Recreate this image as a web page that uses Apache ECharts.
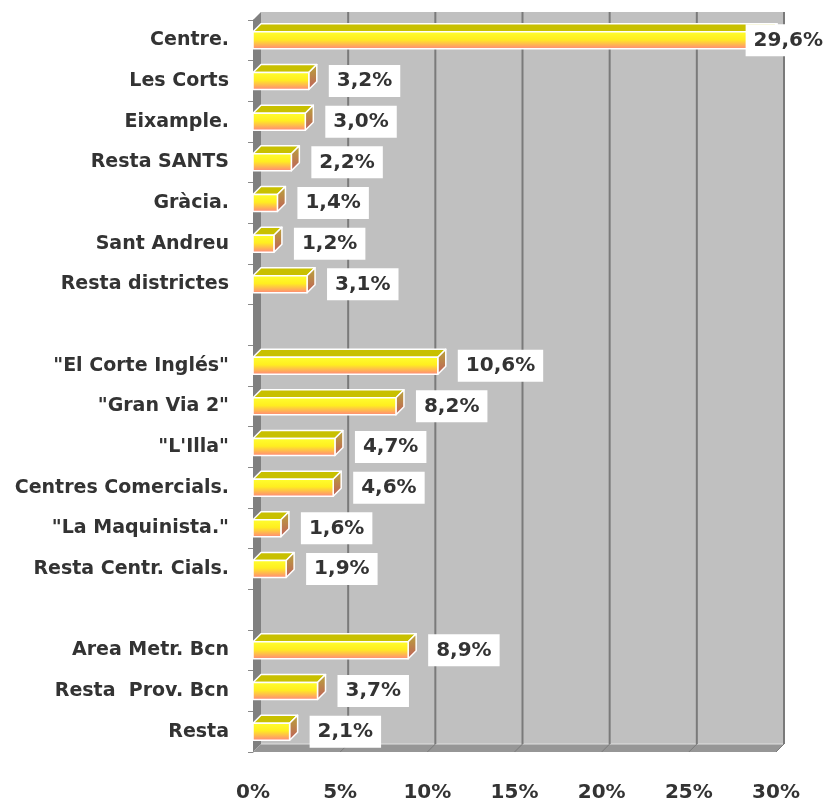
<!DOCTYPE html>
<html>
<head>
<meta charset="utf-8">
<script src="https://cdn.jsdelivr.net/npm/echarts@6/dist/echarts.min.js"></script>
<style>
html, body { margin: 0; background: #fff; }
#chart { width: 827px; height: 802px; }
</style>
</head>
<body>
<div id="chart"></div>
<script>
// categories top to bottom ('' = empty spacer rows)
const categories = ['Centre.', 'Les Corts', 'Eixample.', 'Resta SANTS', 'Gràcia.', 'Sant Andreu',
  'Resta districtes', '', '"El Corte Inglés"', '"Gran Via 2"', '"L\'Illa"', 'Centres Comercials.',
  '"La Maquinista."', 'Resta Centr. Cials.', '', 'Area Metr. Bcn', 'Resta  Prov. Bcn', 'Resta'];
const values = [29.6, 3.2, 3.0, 2.2, 1.4, 1.2, 3.1, null, 10.6, 8.2, 4.7, 4.6, 1.6, 1.9, null, 8.9, 3.7, 2.1];
const xTicks = [0, 5, 10, 15, 20, 25, 30];

const DEPTH = 8;     // 3d offset
const FACE_H = 17;   // front face height
const FONT = 'DejaVu Sans';

const chart = echarts.init(document.getElementById('chart'));

const fmt = v => v.toFixed(1).replace('.', ',') + '%';

function renderWalls(params, api) {
  const cs = params.coordSys;
  const d = DEPTH;
  const top = cs.y, bot = cs.y + cs.height;
  const x = api.coord([api.value(0), 0])[0];
  const children = [];
  if (params.dataIndex === 0) {
    children.push({ type: 'rect', shape: { x: cs.x + d, y: top - d, width: cs.width, height: cs.height },
      style: { fill: '#c0c0c0' } });
    children.push({ type: 'polygon', shape: { points: [[cs.x, top], [cs.x + d, top - d], [cs.x + d, bot - d], [cs.x, bot]] },
      style: { fill: '#808080' } });
    children.push({ type: 'polygon', shape: { points: [[cs.x, bot], [cs.x + d, bot - d], [cs.x + cs.width + d, bot - d], [cs.x + cs.width, bot]] },
      style: { fill: '#969696' } });
    children.push({ type: 'line', shape: { x1: cs.x + d, y1: bot - d, x2: cs.x + cs.width + d, y2: bot - d },
      style: { stroke: '#e0e0e0', lineWidth: 1 } });
  } else {
    children.push({ type: 'line', shape: { x1: x + d, y1: top - d, x2: x + d, y2: bot - d },
      style: { stroke: '#7a7a7a', lineWidth: 2 } });
    children.push({ type: 'line', shape: { x1: x + d, y1: bot - d, x2: x, y2: bot },
      style: { stroke: '#7a7a7a', lineWidth: 1 } });
  }
  return { type: 'group', children: children };
}

function renderBar(params, api) {
  const v = api.value(0), c = api.value(1);
  const p0 = api.coord([0, c]);
  const p1 = api.coord([v, c]);
  const d = DEPTH;
  const x0 = p0[0], x1 = p1[0];
  const yt = p0[1] - FACE_H / 2, yb = p0[1] + FACE_H / 2;
  const stroke = { stroke: '#ffffff', lineWidth: 1.5, lineJoin: 'round' };
  const front = new echarts.graphic.LinearGradient(0, 0, 0, 1, [
    { offset: 0, color: '#ffff30' },
    { offset: 0.45, color: '#ffee20' },
    { offset: 1, color: '#ff8080' }
  ]);
  const side = new echarts.graphic.LinearGradient(0, 0, 0, 1, [
    { offset: 0, color: '#b8a838' },
    { offset: 1, color: '#c05c5c' }
  ]);
  let lx = x1 + d + 12, align = 'left';
  if (lx + 80 > api.getWidth()) { lx = api.getWidth() + 4; align = 'right'; }
  return {
    type: 'group',
    children: [
      { type: 'polygon', shape: { points: [[x0, yt], [x1, yt], [x1 + d, yt - d], [x0 + d, yt - d]] },
        style: Object.assign({ fill: '#c8c000' }, stroke) },
      { type: 'polygon', shape: { points: [[x1, yt], [x1 + d, yt - d], [x1 + d, yb - d], [x1, yb]] },
        style: Object.assign({ fill: side }, stroke) },
      { type: 'rect', shape: { x: x0, y: yt, width: x1 - x0, height: FACE_H },
        style: Object.assign({ fill: front }, stroke) },
      { type: 'text', x: lx, y: p0[1], z2: 10,
        style: { text: fmt(v), align: align, verticalAlign: 'middle', fill: '#333',
          font: 'bold 20px "' + FONT + '"', backgroundColor: '#ffffff', padding: [6, 8, 6, 8] } }
    ]
  };
}

const barData = [];
values.forEach((v, i) => { if (v != null) barData.push([v, i]); });

chart.setOption({
  animation: false,
  backgroundColor: '#ffffff',
  grid: { left: 253, right: 51, top: 20, bottom: 50, containLabel: false, outerBoundsMode: 'none' },
  xAxis: {
    type: 'value', min: 0, max: 30, interval: 5,
    axisLine: { show: false }, axisTick: { show: false }, splitLine: { show: false },
    axisLabel: { formatter: '{value}%', color: '#333', fontFamily: FONT, fontWeight: 'bold', fontSize: 20, margin: 31 }
  },
  yAxis: {
    type: 'category', inverse: true, data: categories,
    axisLine: { show: true, lineStyle: { color: '#8a8a8a', width: 1 } },
    axisTick: { show: true, length: 5, lineStyle: { color: '#8a8a8a' } },
    axisLabel: { color: '#333', fontFamily: FONT, fontWeight: 'bold', fontSize: 19, margin: 24, interval: 0 }
  },
  series: [
    { type: 'custom', z: 1, renderItem: renderWalls, data: xTicks.map(t => [t, 0]), encode: { x: 0, y: 1 }, silent: true },
    { type: 'custom', z: 2, renderItem: renderBar, data: barData, encode: { x: 0, y: 1 } }
  ]
});
</script>
</body>
</html>
